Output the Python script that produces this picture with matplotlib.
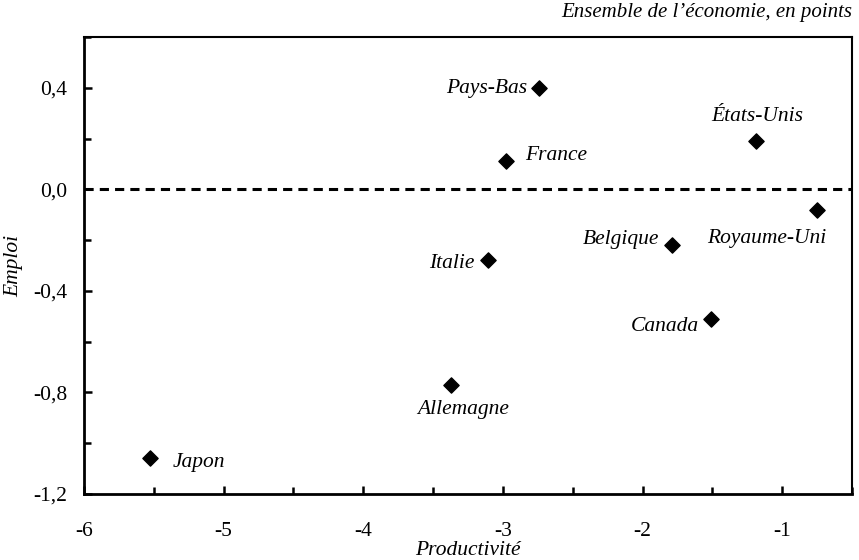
import matplotlib.pyplot as plt
from matplotlib.ticker import MultipleLocator, FuncFormatter

plt.rcParams['font.family'] = ['Liberation Serif', 'DejaVu Serif']

# Data
pays = ["Japon", "Allemagne", "Italie", "France", "Pays-Bas",
        "Belgique", "Canada", "États-Unis", "Royaume-Uni"]
productivite = [-5.53, -3.37, -3.11, -2.98, -2.74, -1.79, -1.51, -1.19, -0.75]
emploi = [-1.06, -0.77, -0.28, 0.11, 0.40, -0.22, -0.51, 0.19, -0.08]

# label placement (pixel offsets from the marker, alignment)
label_offsets = {
    "Japon": (23, -4, "left"),
    "Allemagne": (12, -25, "center"),
    "Italie": (-13, -3, "right"),
    "France": (19, 6, "left"),
    "Pays-Bas": (-12, -1, "right"),
    "Belgique": (-13, 6, "right"),
    "Canada": (-12, -8, "right"),
    "États-Unis": (2, 25, "center"),
    "Royaume-Uni": (-50, -29, "center"),
}

fs = 15.5

fig = plt.figure(figsize=(8.59, 5.6), dpi=100)
ax = fig.add_axes([84 / 859, 1 - 494 / 560, 768 / 859, 457 / 560])

ax.scatter(productivite, emploi, marker="D", s=60, color="black", zorder=3)
ax.axhline(0, color="black", linestyle=(0, (3, 2)), linewidth=2.2)

for name, x, y in zip(pays, productivite, emploi):
    dx, dy, ha = label_offsets[name]
    ax.annotate(name, (x, y), xytext=(dx, dy), textcoords="offset pixels",
                ha=ha, va="center", fontsize=fs, style="italic")

ax.set_xlim(-6, -0.5)
ax.set_ylim(-1.2, 0.6)
ax.xaxis.set_major_locator(MultipleLocator(1))
ax.xaxis.set_minor_locator(MultipleLocator(0.5))
ax.yaxis.set_major_locator(MultipleLocator(0.4))
ax.yaxis.set_minor_locator(MultipleLocator(0.2))
ax.yaxis.set_major_formatter(FuncFormatter(lambda v, p: f"{v:.1f}".replace(".", ",")))
ax.xaxis.set_major_formatter(FuncFormatter(lambda v, p: f"{v:.0f}"))

ax.tick_params(which="both", direction="in", width=1.8, labelsize=fs)
ax.tick_params(which="major", length=6, pad=12)
ax.tick_params(which="minor", length=5)
ax.tick_params(axis="x", which="major", pad=20)
for sp in ax.spines.values():
    sp.set_linewidth(2)
ax.spines["top"].set_linewidth(1.5)
ax.spines["right"].set_linewidth(1.5)

ax.set_xlabel("Productivité", style="italic", fontsize=fs, labelpad=0)
ax.set_ylabel("Emploi", style="italic", fontsize=fs, labelpad=7)

fig.text(852 / 859, 1 - 13 / 560, "Ensemble de l’économie, en points",
         ha="right", va="center", style="italic", fontsize=15)

fig.savefig("out.png", dpi=100)
